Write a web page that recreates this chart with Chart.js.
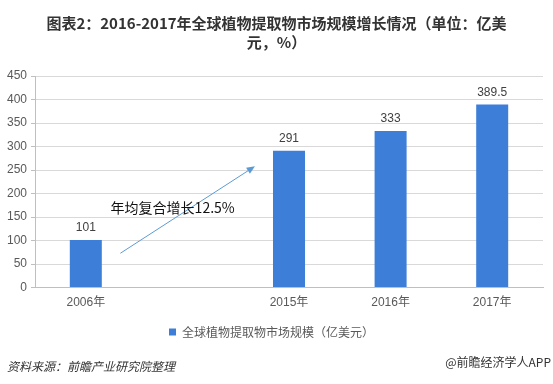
<!DOCTYPE html>
<html>
<head>
<meta charset="utf-8">
<script src="https://cdn.jsdelivr.net/npm/chart.js@4/dist/chart.umd.min.js"></script>
<style>
    html, body { margin: 0; padding: 0; background: #fff; }
    #wrap { position: relative; width: 553px; height: 384px; overflow: hidden; }
    #chart-box { position: absolute; left: 0; top: 0; width: 553px; height: 384px; }
    .title {
        position: absolute; left: 0; width: 553px; text-align: center;
        font-family: "Noto Sans CJK SC", sans-serif; font-weight: bold;
        font-size: 15px; color: #333; white-space: nowrap; line-height: 20px;
    }
    .foot {
        position: absolute; font-family: "Noto Sans CJK SC", sans-serif;
        font-size: 12px; color: #333; line-height: 16px; white-space: nowrap;
    }
</style>
</head>
<body>
<div id="wrap">
    <div id="chart-box"><canvas id="chart"></canvas></div>
    <div class="title" style="top:13px">图表2：2016-2017年全球植物提取物市场规模增长情况（单位：亿美</div>
    <div class="title" style="top:32px">元，%）</div>
    <div class="foot" style="left:7px; top:358px; font-style:italic;">资料来源：前瞻产业研究院整理</div>
    <div class="foot" style="right:2px; top:354px;">@前瞻经济学人APP</div>
</div>
<script>
/* ============================================================
   Datos
============================================================ */
const YEARS = ["2006年", "", "2015年", "2016年", "2017年"];
const MARKET_SIZE = [101, null, 291, 333, 389.5];
const SERIES_NAME = "全球植物提取物市场规模（亿美元）";
const Y_MIN = 0;
const Y_MAX = 450;
const Y_STEP = 50;

// flecha de crecimiento, en coordenadas de datos (índice de categoría, valor)
const CAGR_TEXT = "年均复合增长12.5%";
const CAGR_FROM = [0.34, 73];
const CAGR_TO = [1.665, 258];
const CAGR_LABEL_AT = [0.855, 170];

const BAR_COLOR = "#3D7ED9";
const TEXT_COLOR = "#595959";
const FONT = "'Liberation Sans', 'Noto Sans CJK SC', sans-serif";

/* Etiquetas de valor encima de las barras */
const valueLabels = {
    id: "valueLabels",
    afterDatasetsDraw(chart) {
        const ctx = chart.ctx;
        const meta = chart.getDatasetMeta(0);
        ctx.save();
        ctx.font = "12px " + FONT;
        ctx.fillStyle = "#404040";
        ctx.textAlign = "center";
        ctx.textBaseline = "bottom";
        meta.data.forEach((bar, i) => {
            const v = MARKET_SIZE[i];
            if (v === null) return;
            ctx.fillText(String(v), bar.x, bar.y - 6);
        });
        ctx.restore();
    }
};

/* Flecha y texto de la tasa compuesta */
const cagrArrow = {
    id: "cagrArrow",
    afterDatasetsDraw(chart) {
        const xs = chart.scales.x;
        const ys = chart.scales.y;
        const ctx = chart.ctx;
        const x1 = xs.getPixelForValue(CAGR_FROM[0]);
        const y1 = ys.getPixelForValue(CAGR_FROM[1]);
        const x2 = xs.getPixelForValue(CAGR_TO[0]);
        const y2 = ys.getPixelForValue(CAGR_TO[1]);
        const ang = Math.atan2(y2 - y1, x2 - x1);
        const head = 9;

        ctx.save();
        ctx.strokeStyle = "#5B9BD5";
        ctx.fillStyle = "#5B9BD5";
        ctx.lineWidth = 1;
        ctx.beginPath();
        ctx.moveTo(x1, y1);
        ctx.lineTo(x2 - Math.cos(ang) * head * 0.8, y2 - Math.sin(ang) * head * 0.8);
        ctx.stroke();
        ctx.beginPath();
        ctx.moveTo(x2, y2);
        ctx.lineTo(x2 - head * Math.cos(ang - 0.4), y2 - head * Math.sin(ang - 0.4));
        ctx.lineTo(x2 - head * Math.cos(ang + 0.4), y2 - head * Math.sin(ang + 0.4));
        ctx.closePath();
        ctx.fill();

        ctx.font = "14px 'Noto Sans CJK SC', sans-serif";
        ctx.fillStyle = "#111";
        ctx.textAlign = "center";
        ctx.textBaseline = "middle";
        ctx.fillText(CAGR_TEXT, xs.getPixelForValue(CAGR_LABEL_AT[0]), ys.getPixelForValue(CAGR_LABEL_AT[1]));
        ctx.restore();
    }
};

function renderChart() {
    const ctx = document.getElementById("chart");

    new Chart(ctx, {
        type: "bar",
        data: {
            labels: YEARS,
            datasets: [{
                label: SERIES_NAME,
                data: MARKET_SIZE,
                backgroundColor: BAR_COLOR,
                borderWidth: 0,
                barPercentage: 0.315,
                categoryPercentage: 1
            }]
        },
        options: {
            responsive: true,
            maintainAspectRatio: false,
            animation: false,
            layout: { padding: { left: 0, right: 10, top: 76, bottom: 36 } },
            plugins: {
                legend: {
                    position: "bottom",
                    labels: {
                        boxWidth: 7,
                        boxHeight: 7,
                        padding: 8,
                        color: TEXT_COLOR,
                        font: { size: 12, family: "'Noto Sans CJK SC', sans-serif" }
                    }
                },
                tooltip: { enabled: false },
                title: { display: false }
            },
            scales: {
                x: {
                    grid: { display: false, drawTicks: false },
                    border: { display: true, color: "#bfbfbf" },
                    ticks: { color: TEXT_COLOR, padding: 8, font: { size: 12, family: FONT } }
                },
                y: {
                    min: Y_MIN,
                    max: Y_MAX,
                    afterFit(scale) { scale.width = 35; },
                    ticks: { stepSize: Y_STEP, color: TEXT_COLOR, padding: 4, font: { size: 12, family: FONT } },
                    grid: { color: "#d9d9d9", tickLength: 4, tickColor: "#bfbfbf" },
                    border: { display: true, color: "#bfbfbf" }
                }
            }
        },
        plugins: [valueLabels, cagrArrow]
    });
}

renderChart();
</script>
</body>
</html>
